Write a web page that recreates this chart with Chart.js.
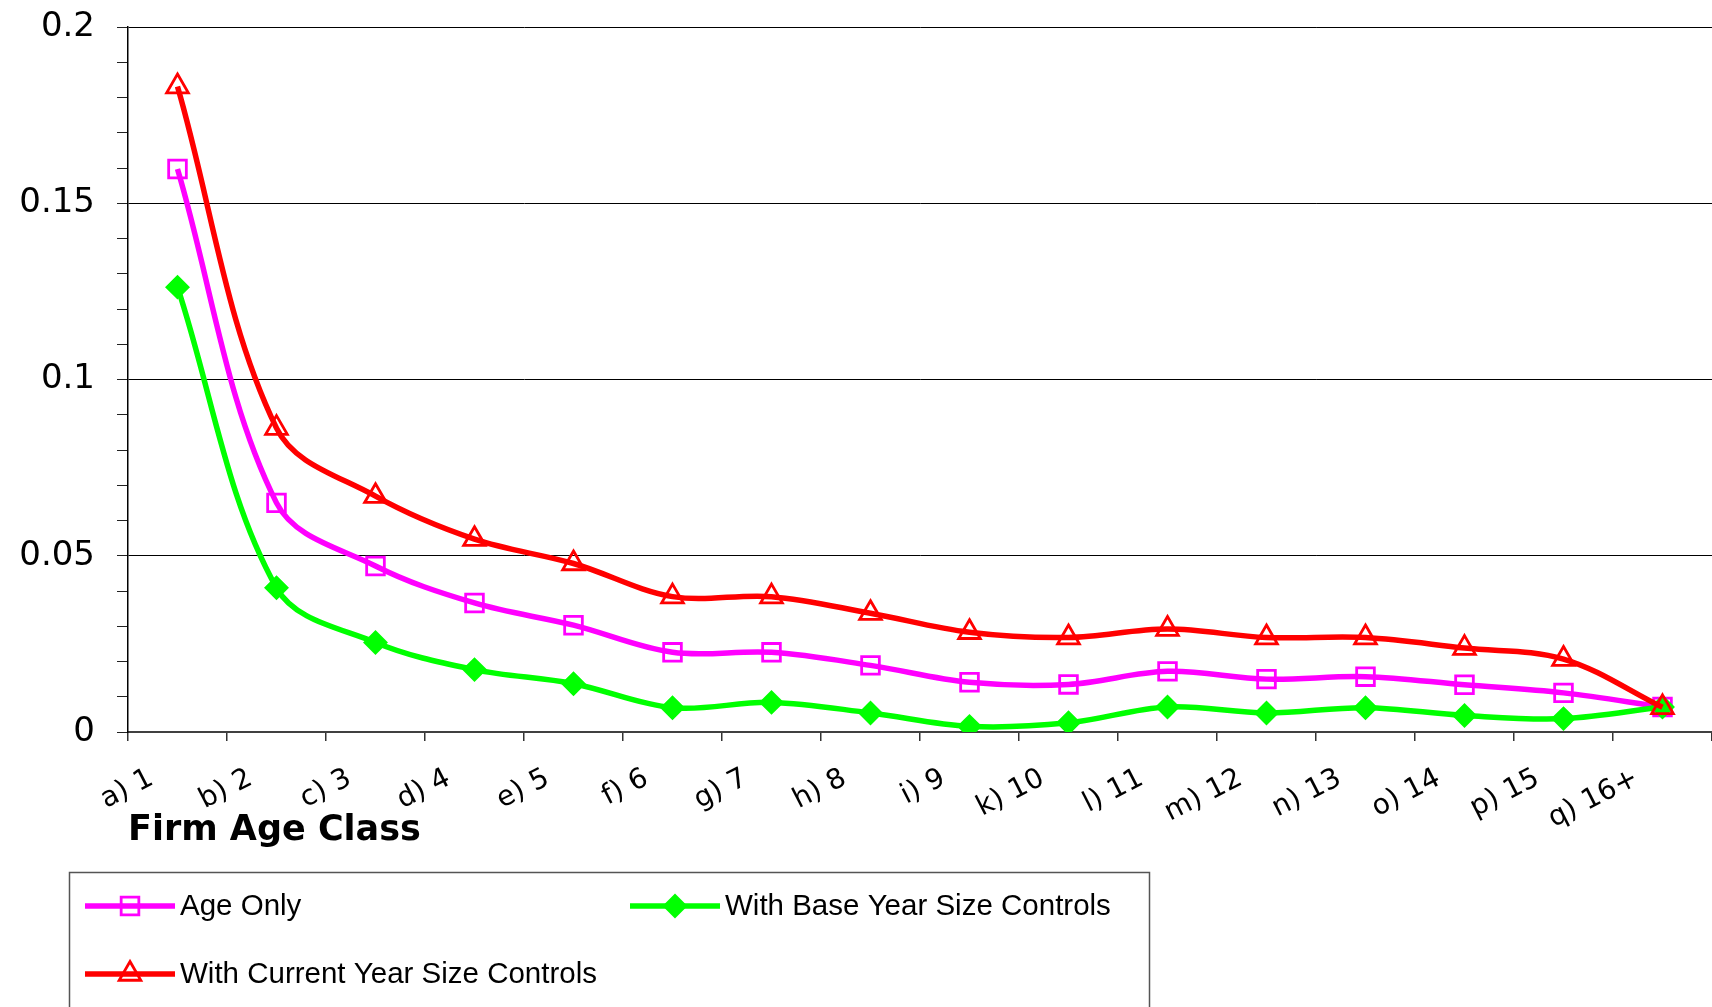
<!DOCTYPE html>
<html><head><meta charset="utf-8">
<script src="https://cdn.jsdelivr.net/npm/chart.js@4.4.0/dist/chart.umd.min.js"></script>
<style>html,body{margin:0;padding:0;background:#fff;overflow:hidden}#wrap{width:1712px;height:1007px;position:relative}canvas{display:block}</style>
</head><body><div id="wrap"><canvas id="c" width="1712" height="1007"></canvas></div>
<script>
const categories = ['a) 1','b) 2','c) 3','d) 4','e) 5','f) 6','g) 7','h) 8','i) 9','k) 10','l) 11','m) 12','n) 13','o) 14','p) 15','q) 16+'];
const ageOnly = [0.1597,0.0650,0.0471,0.0366,0.0303,0.0226,0.0226,0.0189,0.0141,0.0135,0.0172,0.0150,0.0157,0.0134,0.0111,0.0071];
const baseYearControls = [0.1262,0.0409,0.0254,0.0177,0.0137,0.0069,0.0084,0.0054,0.0016,0.0026,0.0071,0.0054,0.0069,0.0047,0.0038,0.0071];
const currentYearControls = [0.1831,0.0862,0.0669,0.0547,0.0478,0.0384,0.0384,0.0337,0.0283,0.0268,0.0292,0.0268,0.0268,0.0238,0.0207,0.0070];
const seriesNames = ['Age Only','With Base Year Size Controls','With Current Year Size Controls'];
const yTickLabels = ['0','0.05','0.1','0.15','0.2'];
const xAxisTitle = 'Firm Age Class';

const styles = {
  'Age Only': {color:'#FF00FF', pointStyle:'rect', radius:12.5, fill:'rgba(0,0,0,0)'},
  'With Base Year Size Controls': {color:'#00FF00', pointStyle:'rectRot', radius:10.5, fill:'#00FF00'},
  'With Current Year Size Controls': {color:'#FF0000', pointStyle:'triangle', radius:12.5, fill:'rgba(0,0,0,0)'}
};
function mkDs(name, data){
  const s = styles[name];
  return {label:name, data:data, borderColor:s.color, borderWidth:5.5, tension:0.35,
    pointStyle:s.pointStyle, pointRadius:s.radius, pointHoverRadius:s.radius,
    pointBackgroundColor:s.fill, pointBorderColor:s.color, pointBorderWidth:2.8, fill:false};
}
// dataset 0 is drawn on top
const datasets = [
  mkDs(seriesNames[2], currentYearControls),
  mkDs(seriesNames[1], baseYearControls),
  mkDs(seriesNames[0], ageOnly)
];

const boxLegend = {
  id:'boxLegend',
  afterDraw(chart){
    const ctx = chart.ctx;
    ctx.save();
    ctx.strokeStyle = '#555'; ctx.lineWidth = 1.5;
    ctx.strokeRect(69.5, 872.5, 1080, 200);
    const slots = [[85,906],[630,906],[85,974]];
    seriesNames.forEach((name,i)=>{
      const s = styles[name]; const [x,y] = slots[i];
      ctx.strokeStyle = s.color; ctx.lineWidth = 5.5; ctx.lineCap='butt';
      ctx.beginPath(); ctx.moveTo(x,y); ctx.lineTo(x+90,y); ctx.stroke();
      ctx.fillStyle = s.fill; ctx.strokeStyle = s.color; ctx.lineWidth = 2.8;
      Chart.helpers.drawPoint(ctx, {pointStyle:s.pointStyle, radius:s.radius, borderWidth:2.8, rotation:0}, x+45, y);
      ctx.fillStyle = '#000'; ctx.font = '29.5px "Liberation Sans", Arial, sans-serif';
      ctx.textBaseline = 'middle'; ctx.textAlign = 'left';
      ctx.fillText(name, x+95, y+1);
    });
    ctx.restore();
  }
};

new Chart(document.getElementById('c'), {
  type:'line',
  data:{labels:categories, datasets:datasets},
  options:{
    responsive:false, animation:false, devicePixelRatio:1,
    layout:{autoPadding:false, padding:{top:27, left:0, right:0, bottom:155}},
    plugins:{legend:{display:false}, tooltip:{enabled:false}},
    scales:{
      x:{
        type:'category', offset:true,
        grid:{offset:true, drawOnChartArea:false, tickLength:9, tickColor:'#333', lineWidth:1.5},
        border:{color:'#404040', width:2},
        ticks:{font:{family:'DejaVu Sans', size:28}, color:'#000', minRotation:27, maxRotation:27, autoSkip:false, labelOffset:-26, padding:21},
        title:{display:true, text:xAxisTitle, align:'start', color:'#000', font:{family:'DejaVu Sans', size:35, weight:'bold'}, padding:{top:0,bottom:0}},
        afterFit(s){ s.height = 120; s.paddingRight = 0; s.paddingLeft = 0; }
      },
      y:{
        min:0, max:0.2,
        ticks:{stepSize:0.01, autoSkip:false, padding:22, color:'#000', font:{family:'DejaVu Sans', size:34},
          callback:(v)=>{ const k = Math.round(v*100); return k % 5 === 0 ? yTickLabels[k/5] : ''; }},
        grid:{color:(c)=> (Math.round(c.tick.value*100)%5===0 ? '#000' : 'rgba(0,0,0,0)'), tickColor:'#222', tickLength:11, lineWidth:1},
        border:{color:'#000', width:1.5},
        afterFit(s){ s.width = 128; s.paddingTop = 0; s.paddingBottom = 0; }
      }
    }
  },
  plugins:[boxLegend]
});
</script></body></html>
